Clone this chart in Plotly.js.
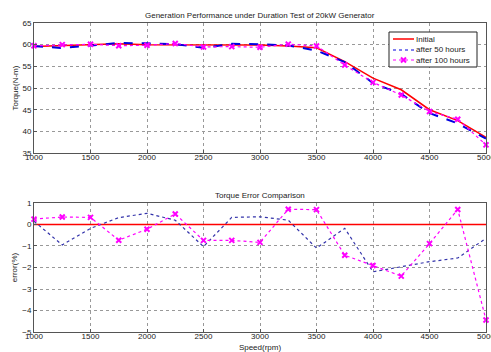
<!DOCTYPE html>
<html><head><meta charset="utf-8">
<script src="https://cdn.plot.ly/plotly-3.0.1.min.js"></script>
<style>html,body{margin:0;padding:0;background:#fff}#c{width:491px;height:352px}</style>
</head><body><div id="c"></div>
<script>
const speed = [1000,1250,1500,1750,2000,2250,2500,2750,3000,3250,3500,3750,4000,4250,4500,4750,5000];
const torqueInitial = [59.6,59.8,59.9,60.2,60.0,60.0,59.9,60.0,59.9,59.7,59.3,56.1,52.3,49.6,45.0,42.5,38.6];
const torque50h = [59.69,59.23,59.79,60.39,60.31,60.12,59.28,60.2,60.12,59.82,58.65,56.0,51.15,48.63,44.22,41.84,38.35];
const torque100h = [59.75,60.01,60.1,59.76,59.85,60.29,59.46,59.56,59.4,60.12,59.71,55.3,51.3,48.4,44.6,42.8,36.9];
const errInitial = [0,0,0,0,0,0,0,0,0,0,0,0,0,0,0,0,0];
const err50h = [0.15,-0.95,-0.18,0.32,0.52,0.2,-1.03,0.33,0.36,0.2,-1.1,-0.18,-2.2,-1.96,-1.73,-1.56,-0.64];
const err100h = [0.25,0.35,0.33,-0.73,-0.22,0.49,-0.74,-0.74,-0.83,0.71,0.69,-1.43,-1.91,-2.4,-0.89,0.7,-4.44];
const seriesNames = ['Initial','after 50 hours','after 100 hours'];
const xTicks = [1000,1500,2000,2500,3000,3500,4000,4500,5000];

const FONT = 'Liberation Sans, Arial, sans-serif';
const RED='#ff0000', BLUE='#0000e0', BLUE2='#3333aa', MAG='#ff00ff';
const mk = {symbol:'x-thin-open',size:5,color:MAG,line:{color:MAG,width:2}};
const traces = [
  {x:speed,y:torqueInitial,name:seriesNames[0],mode:'lines',line:{color:RED,width:1.5},xaxis:'x',yaxis:'y'},
  {x:speed,y:torque50h,name:seriesNames[1],mode:'lines',line:{color:BLUE,width:2,dash:'dash'},xaxis:'x',yaxis:'y'},
  {x:speed,y:torque100h,name:seriesNames[2],mode:'lines+markers',line:{color:MAG,width:1.2,dash:'dot'},
   marker:mk,xaxis:'x',yaxis:'y',cliponaxis:false},
  {x:speed,y:errInitial,name:seriesNames[0],mode:'lines',line:{color:RED,width:1.5},xaxis:'x2',yaxis:'y2'},
  {x:speed,y:err50h,name:seriesNames[1],mode:'lines',line:{color:BLUE2,width:1.2,dash:'dot'},xaxis:'x2',yaxis:'y2'},
  {x:speed,y:err100h,name:seriesNames[2],mode:'lines+markers',line:{color:MAG,width:1.2,dash:'dot'},
   marker:mk,xaxis:'x2',yaxis:'y2',cliponaxis:false}
];
const ax = {showline:true,mirror:true,linecolor:'#555',linewidth:1,ticks:'inside',ticklen:3,tickcolor:'#555',
  showgrid:true,gridcolor:'#999',griddash:'dot',gridwidth:1,zeroline:false,tickfont:{size:8,color:'#222'},
  ticklabeloverflow:'allow'};

// legend box drawn in paper coordinates (plot area: left 34, top 23, width 452, height 309)
const PX = p => (p-34)/452, PY = p => (332-p)/309;
const legRows = [39,50,60];
const shapes = [
  {type:'rect',xref:'paper',yref:'paper',x0:PX(389),x1:PX(477),y0:PY(67),y1:PY(32),
   line:{color:'#222',width:1},fillcolor:'#fff',layer:'above'},
  {type:'line',xref:'paper',yref:'paper',x0:PX(393),x1:PX(414),y0:PY(legRows[0]),y1:PY(legRows[0]),
   line:{color:RED,width:1.5}},
  {type:'line',xref:'paper',yref:'paper',x0:PX(393),x1:PX(414),y0:PY(legRows[1]),y1:PY(legRows[1]),
   line:{color:BLUE,width:1.2,dash:'dot'}},
  {type:'line',xref:'paper',yref:'paper',x0:PX(393),x1:PX(414),y0:PY(legRows[2]),y1:PY(legRows[2]),
   line:{color:MAG,width:1.2,dash:'dot'}},
  {type:'line',xref:'paper',yref:'paper',x0:PX(401),x1:PX(406),y0:PY(legRows[2]-2.5),y1:PY(legRows[2]+2.5),
   line:{color:MAG,width:2}},
  {type:'line',xref:'paper',yref:'paper',x0:PX(401),x1:PX(406),y0:PY(legRows[2]+2.5),y1:PY(legRows[2]-2.5),
   line:{color:MAG,width:2}}
];
const annotations = [
  {text:'Generation Performance under Duration Test of 20kW Generator',xref:'paper',yref:'paper',x:0.5,y:1,
   yanchor:'bottom',yshift:1,showarrow:false,font:{size:8}},
  {text:'Torque Error Comparison',xref:'paper',yref:'paper',x:0.5,y:0.4175,
   yanchor:'bottom',yshift:1,showarrow:false,font:{size:8}}
].concat(seriesNames.map((n,i)=>({text:n,xref:'paper',yref:'paper',x:PX(415),y:PY(legRows[i]),
   xanchor:'left',yanchor:'middle',showarrow:false,font:{size:8},borderpad:0})));

const layout = {
  width:491,height:352,margin:{l:34,r:5,t:23,b:20},
  paper_bgcolor:'#fff',plot_bgcolor:'#fff',showlegend:false,
  font:{family:FONT,size:8,color:'#222'},
  xaxis:Object.assign({},ax,{domain:[0,1],range:[1000,5000],tickvals:xTicks,anchor:'y',ticklabelstandoff:-4}),
  yaxis:Object.assign({},ax,{domain:[0.579,1],range:[35,65],dtick:5,anchor:'x',
    title:{text:'Torque(N-m)',font:{size:8},standoff:2}}),
  xaxis2:Object.assign({},ax,{domain:[0,1],range:[1000,5000],tickvals:xTicks,anchor:'y2',ticklabelstandoff:-4,
    title:{text:'Speed(rpm)',font:{size:8},standoff:4}}),
  yaxis2:Object.assign({},ax,{domain:[0,0.4175],range:[-5,1],dtick:1,anchor:'x2',
    title:{text:'error(%)',font:{size:8},standoff:3}}),
  shapes:shapes,annotations:annotations
};
Plotly.newPlot('c',traces,layout,{displayModeBar:false,staticPlot:true});
</script></body></html>
